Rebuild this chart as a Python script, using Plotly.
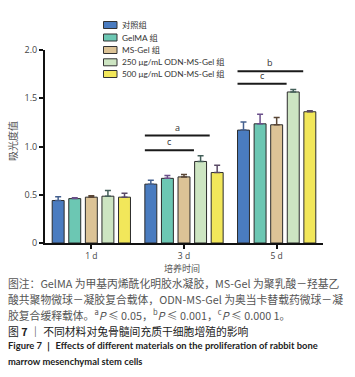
import plotly.graph_objects as go

# ---- data ----
days = ["1 d", "3 d", "5 d"]
groups = ["对照组", "GelMA 组", "MS-Gel 组", "250 μg/mL ODN-MS-Gel 组", "500 μg/mL ODN-MS-Gel 组"]
control = [0.44, 0.61, 1.17]
gelma = [0.46, 0.67, 1.235]
msgel = [0.475, 0.685, 1.225]
odn250 = [0.485, 0.845, 1.565]
odn500 = [0.475, 0.73, 1.36]
err_control = [0.04, 0.04, 0.085]
err_gelma = [0.008, 0.03, 0.10]
err_msgel = [0.015, 0.025, 0.075]
err_odn250 = [0.06, 0.06, 0.025]
err_odn500 = [0.04, 0.075, 0.01]
y_ticks = [0, 0.5, 1.0, 1.5, 2.0]
y_tick_labels = ["0", "0.5", "1.0", "1.5", "2.0"]
# significance: (day index, start bar, end bar position, y level, label)
sig_marks = [(1, 0, 3.55, 1.113, "a"), (1, 0, 2.6, 0.96, "c"),
             (2, 0, 3.6, 1.78, "b"), (2, 0, 2.6, 1.65, "c")]

series = [control, gelma, msgel, odn250, odn500]
errors = [err_control, err_gelma, err_msgel, err_odn250, err_odn500]
colors = ["#4a7cc0", "#6cc7b3", "#dcc396", "#cde5c2", "#f2e75a"]
err_colors = ["#44608f", "#6a4f8a", "#5a4636", "#44605a", "#5a4a66"]

W, H = 355, 377
L, R, T, B = 45, 32, 50, 134
BARGAP, GROUPGAP = 0.105, 0.28


def px_x(px):
    return (px - L) / (W - L - R)


def px_y(py):
    return (H - B - py) / (H - T - B)


fig = go.Figure()
xs = list(range(len(days)))
for name, vals, errs, c, ec in zip(groups, series, errors, colors, err_colors):
    fig.add_trace(go.Bar(
        x=xs, y=vals, name=name, marker=dict(color=c, line=dict(color="#2b2b2b", width=1)),
        error_y=dict(type="data", array=errs, arrayminus=[0] * len(errs), symmetric=False,
                     color=ec, thickness=1.5, width=3),
        showlegend=False,
    ))

n = len(groups)
slot = (1 - BARGAP) / n
barw = slot * (1 - GROUPGAP)
shapes = []
annotations = []
for day, b0, b1, yv, lab in sig_marks:
    x0 = day + (b0 - (n - 1) / 2) * slot - barw / 2
    x1 = day + (b1 - (n - 1) / 2) * slot
    shapes.append(dict(type="line", xref="x", yref="y", x0=x0, x1=x1, y0=yv, y1=yv,
                       line=dict(color="#1a1a1a", width=2)))
    annotations.append(dict(xref="x", yref="y", x=(x0 + x1) / 2, y=yv, text=lab, showarrow=False,
                            yanchor="bottom", yshift=0, font=dict(size=9, color="#333")))

# legend (manual)
leg_rows = [25, 37.5, 50, 62.3, 74]
for name, c, ry in zip(groups, colors, leg_rows):
    shapes.append(dict(type="rect", xref="paper", yref="paper",
                       x0=px_x(103.5), x1=px_x(117), y0=px_y(ry + 3.5), y1=px_y(ry - 3.5),
                       fillcolor=c, line=dict(color="#333", width=1)))
    annotations.append(dict(xref="paper", yref="paper", x=px_x(120), y=px_y(ry), text=name,
                            showarrow=False, xanchor="left", yanchor="middle",
                            font=dict(size=8.3, color="#333", family="Lato, Noto Sans CJK SC")))

# axis titles
annotations.append(dict(xref="paper", yref="paper", x=px_x(12), y=px_y(141), text="吸光度值",
                        textangle=-90, showarrow=False, xanchor="center", yanchor="middle",
                        font=dict(size=10, color="#555", family="Noto Sans CJK SC")))
annotations.append(dict(xref="paper", yref="paper", x=px_x(182), y=px_y(268.5), text="培养时间",
                        showarrow=False, xanchor="center", yanchor="middle",
                        font=dict(size=9, color="#555", family="Noto Sans CJK SC")))

# caption
cap_font = dict(size=10.8, color="#555", family="Noto Sans CJK SC")
cap_lines = [
    "图注：GelMA 为甲基丙烯酰化明胶水凝胶，MS-Gel 为聚乳酸－羟基乙",
    "酸共聚物微球－凝胶复合载体，ODN-MS-Gel 为奥当卡替载药微球－凝",
    "胶复合缓释载体。<sup>a</sup><i>P</i> ≤ 0.05，<sup>b</sup><i>P</i> ≤ 0.001，<sup>c</sup><i>P</i> ≤ 0.000 1。",
]
for i, t in enumerate(cap_lines):
    annotations.append(dict(xref="paper", yref="paper", x=px_x(6), y=px_y(283 + 15.8 * i), text=t,
                            showarrow=False, xanchor="left", yanchor="middle", font=cap_font))
annotations.append(dict(xref="paper", yref="paper", x=px_x(6), y=px_y(330.5),
                        text="图 <b>7</b> ｜ 不同材料对兔骨髓间充质干细胞增殖的影响",
                        showarrow=False, xanchor="left", yanchor="middle",
                        font=dict(size=10.8, color="#222", family="Noto Sans CJK SC")))
fig_font = dict(size=9.4, color="#222", family="Lato")
annotations.append(dict(xref="paper", yref="paper", x=px_x(6), y=px_y(346),
                        text="<b>Figure 7 ｜ Effects of different materials on the proliferation of rabbit bone</b>",
                        showarrow=False, xanchor="left", yanchor="middle", font=fig_font))
annotations.append(dict(xref="paper", yref="paper", x=px_x(6), y=px_y(361),
                        text="<b>marrow mesenchymal stem cells</b>",
                        showarrow=False, xanchor="left", yanchor="middle", font=fig_font))

fig.update_layout(
    width=W, height=H, margin=dict(l=L, r=R, t=T, b=B),
    plot_bgcolor="white", paper_bgcolor="white",
    barmode="group", bargap=BARGAP, bargroupgap=GROUPGAP,
    shapes=shapes, annotations=annotations,
    font=dict(family="Open Sans, Noto Sans CJK SC", color="#444"),
    xaxis=dict(range=[-0.5, 2.5], tickvals=xs, ticktext=days, showgrid=False, zeroline=False,
               showline=True, linecolor="#111", linewidth=2, ticks="outside", ticklen=4,
               tickwidth=1.5, tickcolor="#111", tickfont=dict(size=8.5, color="#444"), fixedrange=True),
    yaxis=dict(range=[0, 2.0], tickvals=y_ticks, ticktext=y_tick_labels, showgrid=False,
               zeroline=False, showline=True, linecolor="#111", linewidth=2, ticks="outside",
               ticklen=4, tickwidth=1.5, tickcolor="#111", tickfont=dict(size=9, color="#444"),
               fixedrange=True),
)

fig.write_html("out.html", config={"displayModeBar": False},
               post_script="document.body.style.margin='0';document.body.style.overflow='hidden';")
